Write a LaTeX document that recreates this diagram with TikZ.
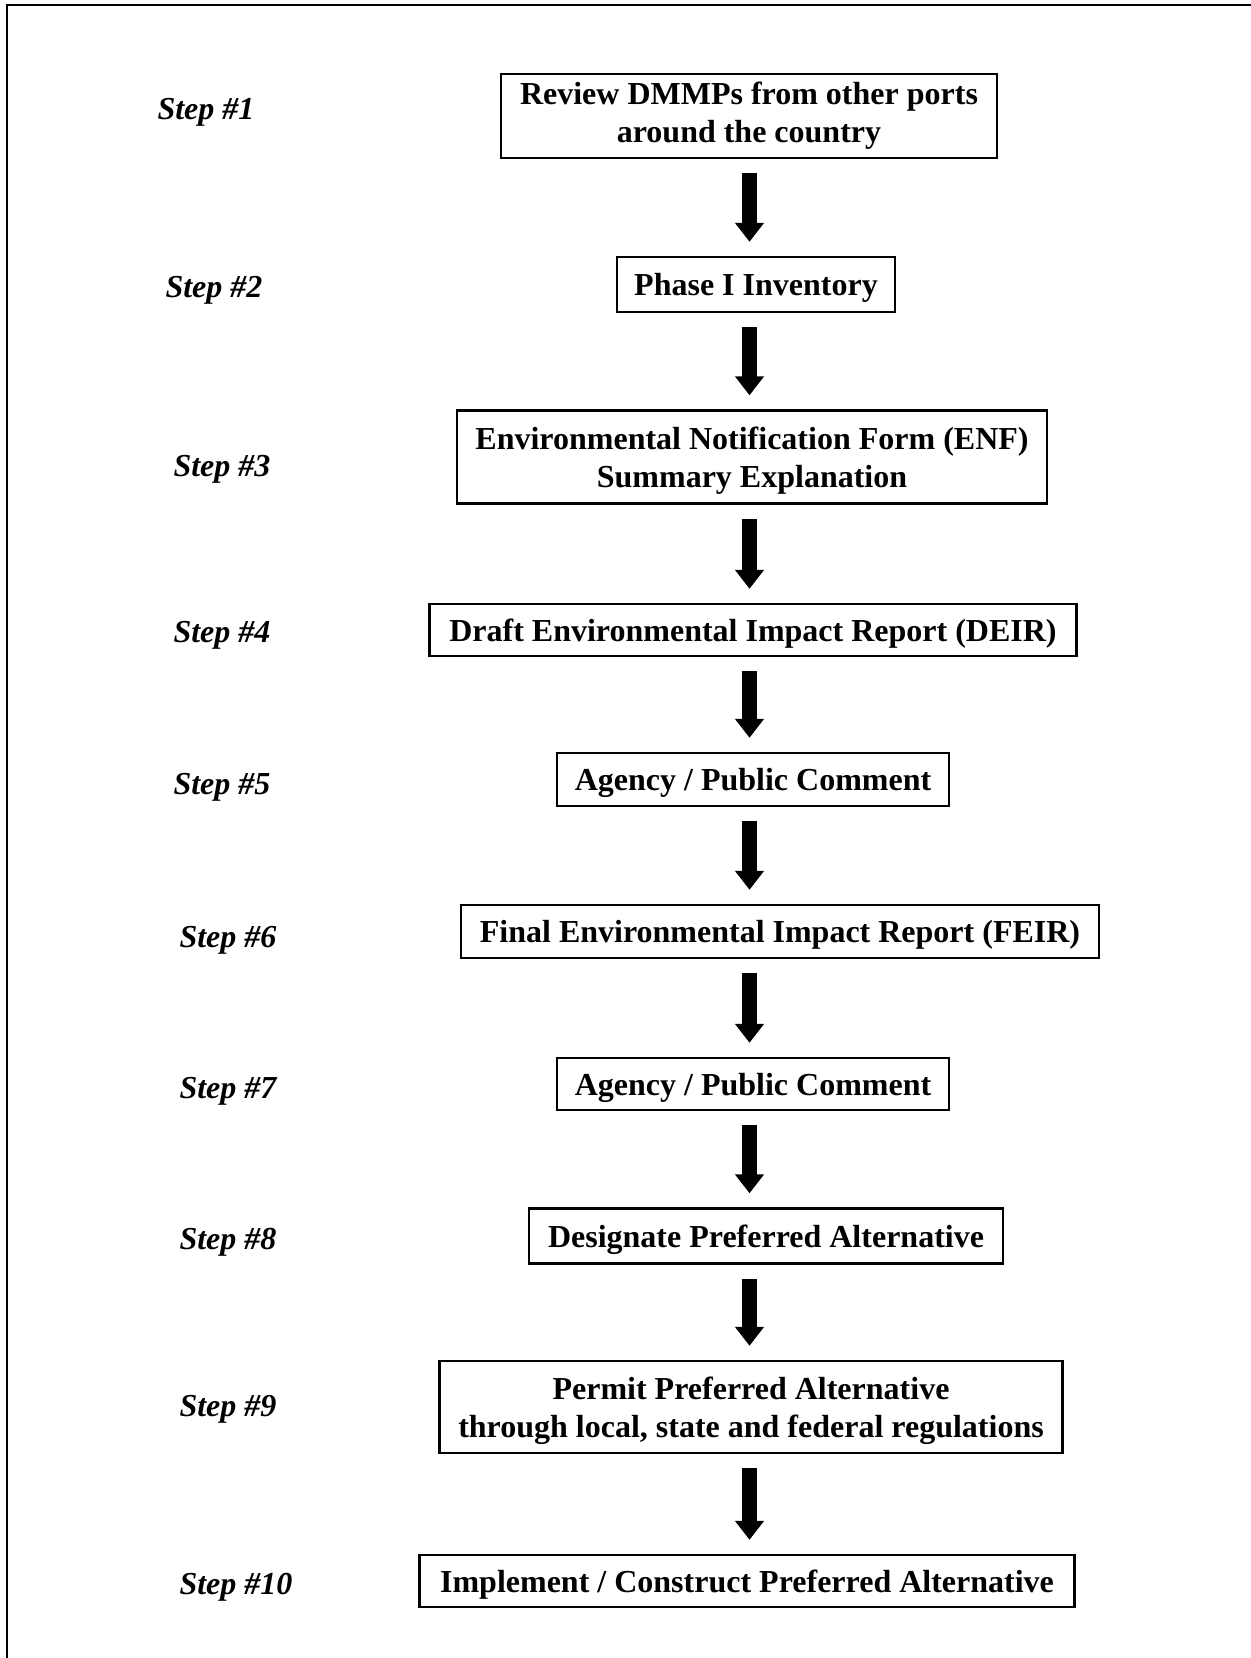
\documentclass[tikz,border=0pt]{standalone}
\usepackage{fontspec}
\setmainfont{Liberation Serif}
\usetikzlibrary{arrows.meta,calc}
\begin{document}
\begin{tikzpicture}[x=0.5pt,y=-0.5pt,
  stepbox/.style={draw=black,line width=1.2pt,align=center,inner sep=0pt,text depth=0pt,
    font=\fontsize{16}{19}\selectfont\bfseries},
  steplabel/.style={font=\fontsize{16}{19}\selectfont\bfseries\itshape,inner sep=0pt,text depth=0pt},
  bigarrow/.style={line width=7.5pt,-{Triangle[width=14pt,length=9.5pt]}},
  frameline/.style={line width=1.3pt}]
\useasboundingbox (0,0) rectangle (1250,1658);
\draw[frameline] (1270,5) -- (7,5) -- (7,1680);
\coordinate (ax) at (749.5,0);
% boxes
\node[stepbox,text depth=,minimum width=248pt,minimum height=42pt] (b1) at (749,116) {Review DMMPs from other ports\\around the country};
\node[stepbox,minimum width=139pt,minimum height=27.5pt] (b2) at (756,284.5) {Phase I Inventory};
\node[stepbox,minimum width=295pt,minimum height=46.5pt] (b3) at (752,457) {Environmental Notification Form (ENF)\\Summary Explanation};
\node[stepbox,minimum width=323.5pt,minimum height=26pt] (b4) at (753,630) {Draft Environmental Impact Report (DEIR)};
\node[stepbox,minimum width=196pt,minimum height=26.5pt] (b5) at (753,779.5) {Agency / Public Comment};
\node[stepbox,minimum width=319pt,minimum height=26.5pt] (b6) at (780,931.5) {Final Environmental Impact Report (FEIR)};
\node[stepbox,minimum width=196pt,minimum height=26pt] (b7) at (753,1084) {Agency / Public Comment};
\node[stepbox,minimum width=237pt,minimum height=27.5pt] (b8) at (766,1236) {Designate Preferred Alternative};
\node[stepbox,minimum width=311.5pt,minimum height=46pt] (b9) at (751,1407) {Permit Preferred Alternative\\through local, state and federal regulations};
\node[stepbox,minimum width=327.5pt,minimum height=26pt] (b10) at (747,1581) {Implement / Construct Preferred Alternative};
% step labels
\node[steplabel] (s1) at (206,109) {Step \#1};
\node[steplabel] (s2) at (214,287) {Step \#2};
\node[steplabel] (s3) at (222,466) {Step \#3};
\node[steplabel] (s4) at (222,632) {Step \#4};
\node[steplabel] (s5) at (222,784) {Step \#5};
\node[steplabel] (s6) at (228,937) {Step \#6};
\node[steplabel] (s7) at (228,1088) {Step \#7};
\node[steplabel] (s8) at (228,1239) {Step \#8};
\node[steplabel] (s9) at (228,1406) {Step \#9};
\node[steplabel] (s10) at (236,1584) {Step \#10};
% arrows
\foreach \a/\b in {b1/b2,b2/b3,b3/b4,b4/b5,b5/b6,b6/b7,b7/b8,b8/b9,b9/b10}{
  \draw[bigarrow] ([yshift=-7pt]\a.south -| ax) -- ([yshift=7pt]\b.north -| ax);
}
\end{tikzpicture}
\end{document}
